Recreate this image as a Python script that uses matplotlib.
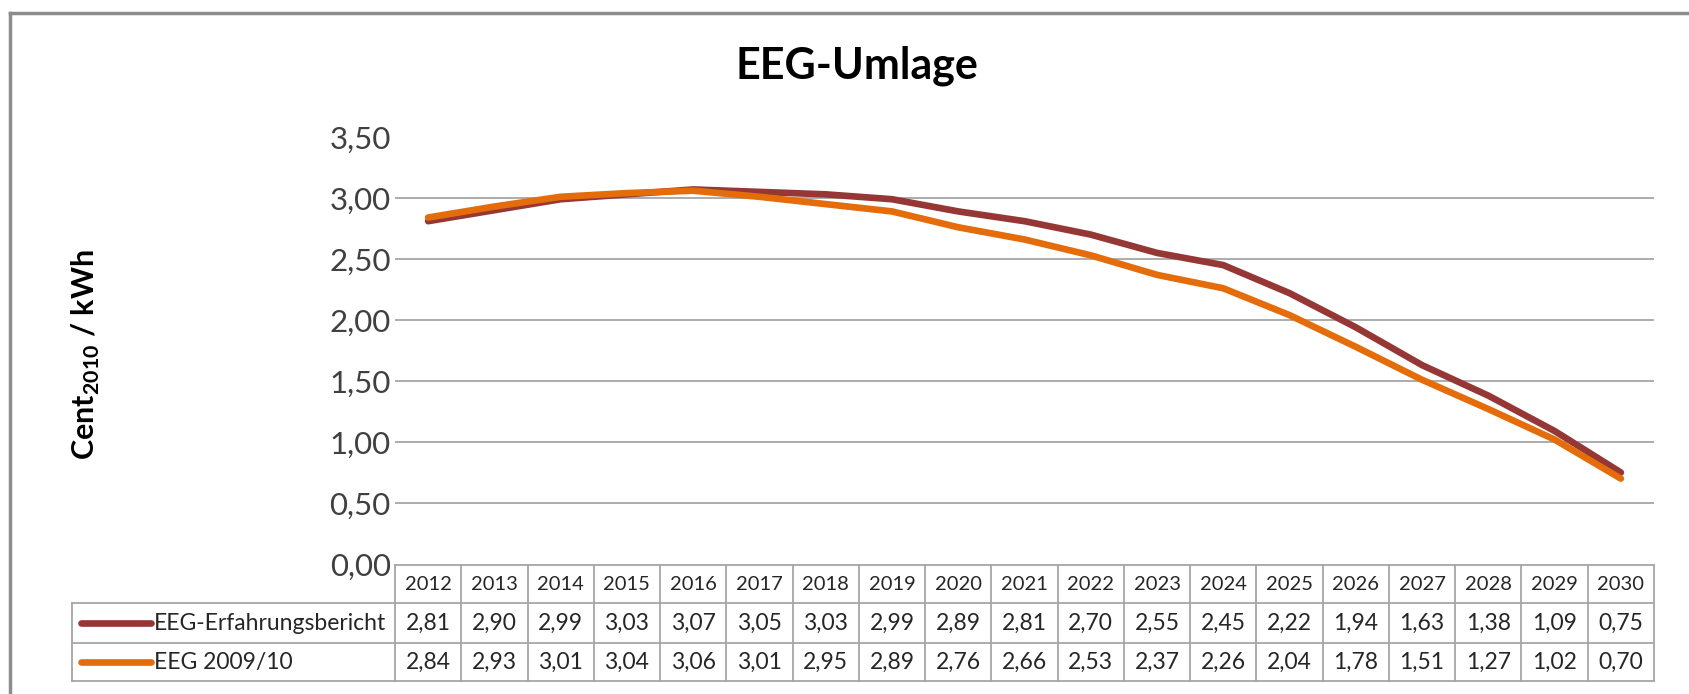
import matplotlib
matplotlib.use("Agg")
import matplotlib.pyplot as plt
import matplotlib.transforms as mtransforms
from matplotlib.lines import Line2D

plt.rcParams['font.family'] = ['Lato', 'DejaVu Sans']
plt.rcParams['mathtext.fontset'] = 'custom'
plt.rcParams['mathtext.rm'] = 'Lato'
plt.rcParams['mathtext.bf'] = 'Lato:bold'

# data
years = [2012, 2013, 2014, 2015, 2016, 2017, 2018, 2019, 2020, 2021,
         2022, 2023, 2024, 2025, 2026, 2027, 2028, 2029, 2030]
erfahrungsbericht = [2.81, 2.90, 2.99, 3.03, 3.07, 3.05, 3.03, 2.99, 2.89, 2.81,
                     2.70, 2.55, 2.45, 2.22, 1.94, 1.63, 1.38, 1.09, 0.75]
eeg_2009_10 = [2.84, 2.93, 3.01, 3.04, 3.06, 3.01, 2.95, 2.89, 2.76, 2.66,
               2.53, 2.37, 2.26, 2.04, 1.78, 1.51, 1.27, 1.02, 0.70]
series_names = ['EEG-Erfahrungsbericht', 'EEG 2009/10']
series_colors = ['#953735', '#E46C0A']
yticks = [0, 0.5, 1.0, 1.5, 2.0, 2.5, 3.0, 3.5]

W, H = 1689, 694
fig = plt.figure(figsize=(W / 100, H / 100), dpi=100)

# axes placement in pixels (from top-left)
ax_l, ax_r, ax_t, ax_b = 395, 1654, 137, 564
ax = fig.add_axes([ax_l / W, 1 - ax_b / H, (ax_r - ax_l) / W, (ax_b - ax_t) / H])

xs = list(range(len(years)))
ax.plot(xs, erfahrungsbericht, color=series_colors[0], lw=4.8, solid_capstyle='round', zorder=3)
ax.plot(xs, eeg_2009_10, color=series_colors[1], lw=4.8, solid_capstyle='round', zorder=4)

ax.set_xlim(-0.5, len(years) - 0.5)
ax.set_ylim(0, 3.5)
ax.set_yticks(yticks)
ax.set_yticklabels([f"{v:.2f}".replace('.', ',') for v in yticks], fontsize=22.5, color='#404040')
ax.set_xticks([])
ax.tick_params(axis='y', length=0, pad=3)
for s in ax.spines.values():
    s.set_visible(False)
ax.yaxis.grid(True, color='#A6A6A6', lw=1.3)
ax.set_axisbelow(True)
gl = ax.get_ygridlines()
gl[0].set_visible(False)
gl[-1].set_visible(False)

# data table below the plot (x in data, y in axes coords)
trans = mtransforms.blended_transform_factory(ax.transData, ax.transAxes)
def py(p):
    return (ax_b - p) / (ax_b - ax_t)

row_tops = [py(565), py(603), py(643), py(681)]
col_w = (ax_r - ax_l) / len(years)
lab_left = -0.5 - (ax_l - 72) / col_w
x_right = len(years) - 0.5
grid_kw = dict(color='#A6A6A6', lw=1.3, transform=trans, clip_on=False)

ax.plot([-0.5, x_right], [row_tops[0]] * 2, **grid_kw)
for yt in row_tops[1:]:
    ax.plot([lab_left, x_right], [yt] * 2, **grid_kw)
for i in range(len(years) + 1):
    ax.plot([i - 0.5] * 2, [row_tops[0], row_tops[3]], **grid_kw)
ax.plot([lab_left] * 2, [row_tops[1], row_tops[3]], **grid_kw)

txt_color = '#262626'
for i, yr in enumerate(years):
    ax.text(i, (row_tops[0] + row_tops[1]) / 2, str(yr), transform=trans,
            ha='center', va='center', fontsize=14.5, color=txt_color)
for r, vals in enumerate([erfahrungsbericht, eeg_2009_10]):
    yc = (row_tops[r + 1] + row_tops[r + 2]) / 2
    for i, v in enumerate(vals):
        ax.text(i, yc, f"{v:.2f}".replace('.', ','), transform=trans,
                ha='center', va='center', fontsize=16.5, color=txt_color)
    # legend key + name
    x0 = lab_left + (81 - 72) / col_w
    x1 = lab_left + (151 - 72) / col_w
    ax.add_line(Line2D([x0, x1], [yc, yc], color=series_colors[r], lw=4.8,
                       solid_capstyle='round', transform=trans, clip_on=False))
    ax.text(lab_left + (154 - 72) / col_w, yc, series_names[r], transform=trans,
            ha='left', va='center', fontsize=16.5, color=txt_color)

# title and y label
fig.text(857 / W, 1 - 66 / H, 'EEG-Umlage', ha='center', va='center',
         fontsize=31, fontweight='bold', color='#000000')
fig.text(86 / W, 1 - 355 / H, r'$\mathbf{Cent}_{\mathbf{2010}}$ / kWh', rotation=90,
         ha='center', va='center', fontsize=22, fontweight='bold', color='#000000')

# outer chart frame
frame_kw = dict(color='#8C8C8C', lw=2.5, transform=None)
fig.add_artist(Line2D([10, 10], [0, H - 13], **frame_kw))
fig.add_artist(Line2D([10, W], [H - 13, H - 13], **frame_kw))

fig.savefig('out.png', dpi=100)
